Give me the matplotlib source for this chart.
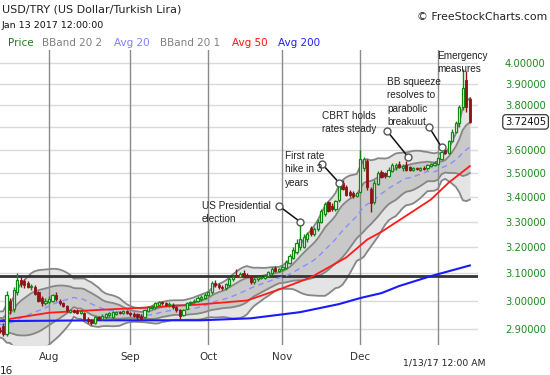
import numpy as np
import pandas as pd
import matplotlib
matplotlib.use("Agg")
import matplotlib.pyplot as plt
from matplotlib.ticker import FixedLocator, NullLocator, FixedFormatter
import matplotlib.transforms as mtransforms

# ---------------- data ----------------
dates = pd.bdate_range("2016-07-12", "2017-01-13")

opens = [
    2.895, 2.910, 2.880, 3.000, 2.970, 3.030, 3.075, 3.070, 3.065, 3.048,
    3.050, 3.030, 3.010, 2.990, 2.995, 3.000, 3.020, 3.000, 2.990, 2.980,
    2.960, 2.965, 2.963, 2.955, 2.955, 2.935, 2.930, 2.920, 2.940, 2.935,
    2.940, 2.948, 2.940, 2.952, 2.958, 2.955, 2.962, 2.955, 2.952, 2.950,
    2.945, 2.940, 2.962, 2.972, 2.975, 2.985, 2.995, 2.990, 2.982, 2.985,
    2.975, 2.965, 2.948, 2.970, 2.990, 2.995, 2.998, 3.005, 3.010, 3.020,
    3.030, 3.066, 3.058, 3.050, 3.045, 3.055, 3.078, 3.095, 3.088, 3.100,
    3.095, 3.092, 3.068, 3.078, 3.082, 3.084, 3.090, 3.100, 3.120, 3.110,
    3.115, 3.120, 3.140, 3.160, 3.180, 3.200, 3.200, 3.230, 3.275, 3.250,
    3.270, 3.300, 3.330, 3.380, 3.365, 3.350, 3.390, 3.460, 3.440, 3.420,
    3.415, 3.405, 3.420, 3.520, 3.550, 3.435, 3.380, 3.455, 3.505, 3.500,
    3.490, 3.510, 3.525, 3.540, 3.520, 3.535, 3.525, 3.515, 3.522, 3.515,
    3.523, 3.520, 3.530, 3.535, 3.540, 3.560, 3.600, 3.585, 3.640, 3.680,
    3.720, 3.790, 3.920, 3.830,
]
highs = [
    2.905, 2.920, 3.035, 3.010, 3.050, 3.100, 3.090, 3.080, 3.070, 3.060,
    3.055, 3.035, 3.015, 3.010, 3.015, 3.025, 3.030, 3.005, 2.995, 2.985,
    2.970, 2.970, 2.968, 2.966, 2.960, 2.940, 2.935, 2.945, 2.945, 2.950,
    2.955, 2.960, 2.962, 2.962, 2.963, 2.966, 2.966, 2.960, 2.958, 2.955,
    2.950, 2.970, 2.980, 2.985, 2.995, 3.000, 3.000, 2.995, 2.995, 2.990,
    2.980, 2.970, 2.970, 2.995, 3.000, 3.005, 3.015, 3.020, 3.028, 3.035,
    3.070, 3.075, 3.063, 3.055, 3.065, 3.085, 3.095, 3.118, 3.105, 3.112,
    3.100, 3.095, 3.085, 3.090, 3.092, 3.096, 3.110, 3.125, 3.128, 3.120,
    3.130, 3.150, 3.175, 3.200, 3.230, 3.300, 3.250, 3.260, 3.285, 3.280,
    3.310, 3.350, 3.380, 3.385, 3.375, 3.390, 3.460, 3.470, 3.450, 3.430,
    3.425, 3.420, 3.600, 3.570, 3.560, 3.440, 3.470, 3.510, 3.515, 3.505,
    3.525, 3.545, 3.545, 3.550, 3.540, 3.550, 3.530, 3.525, 3.527, 3.526,
    3.530, 3.540, 3.545, 3.550, 3.570, 3.595, 3.610, 3.645, 3.690, 3.730,
    3.800, 3.970, 3.960, 3.840,
]
lows = [
    2.885, 2.875, 2.875, 2.950, 2.960, 3.020, 3.050, 3.045, 3.045, 3.040,
    3.020, 2.995, 2.980, 2.985, 2.990, 2.995, 3.000, 2.985, 2.975, 2.960,
    2.955, 2.955, 2.950, 2.950, 2.930, 2.918, 2.912, 2.915, 2.930, 2.930,
    2.935, 2.940, 2.930, 2.948, 2.950, 2.952, 2.950, 2.945, 2.940, 2.930,
    2.930, 2.935, 2.958, 2.968, 2.970, 2.980, 2.985, 2.980, 2.975, 2.970,
    2.960, 2.935, 2.945, 2.968, 2.985, 2.990, 2.995, 3.000, 3.005, 3.015,
    3.025, 3.050, 3.042, 3.040, 3.040, 3.050, 3.070, 3.085, 3.085, 3.088,
    3.085, 3.060, 3.062, 3.072, 3.078, 3.080, 3.088, 3.095, 3.105, 3.105,
    3.110, 3.115, 3.135, 3.155, 3.175, 3.190, 3.195, 3.220, 3.245, 3.245,
    3.265, 3.295, 3.325, 3.340, 3.345, 3.345, 3.380, 3.430, 3.405, 3.400,
    3.395, 3.400, 3.415, 3.510, 3.430, 3.340, 3.370, 3.450, 3.480, 3.480,
    3.485, 3.505, 3.515, 3.520, 3.510, 3.510, 3.510, 3.510, 3.512, 3.510,
    3.513, 3.515, 3.525, 3.530, 3.535, 3.555, 3.580, 3.580, 3.635, 3.675,
    3.700, 3.780, 3.770, 3.720,
]
closes = [
    2.890, 2.880, 3.020, 2.965, 3.040, 3.075, 3.060, 3.055, 3.050, 3.052,
    3.025, 3.000, 2.990, 3.000, 3.005, 3.020, 3.005, 2.990, 2.980, 2.965,
    2.965, 2.960, 2.955, 2.962, 2.935, 2.925, 2.918, 2.940, 2.935, 2.945,
    2.950, 2.955, 2.957, 2.958, 2.955, 2.962, 2.955, 2.950, 2.945, 2.940,
    2.935, 2.965, 2.975, 2.978, 2.990, 2.995, 2.990, 2.985, 2.988, 2.975,
    2.965, 2.945, 2.965, 2.990, 2.995, 3.000, 3.010, 3.012, 3.020, 3.030,
    3.065, 3.055, 3.048, 3.045, 3.060, 3.080, 3.088, 3.090, 3.098, 3.093,
    3.090, 3.068, 3.080, 3.085, 3.086, 3.092, 3.105, 3.115, 3.110, 3.115,
    3.125, 3.145, 3.165, 3.190, 3.215, 3.230, 3.240, 3.250, 3.250, 3.270,
    3.300, 3.345, 3.370, 3.345, 3.350, 3.385, 3.455, 3.435, 3.410, 3.410,
    3.405, 3.415, 3.560, 3.560, 3.440, 3.375, 3.460, 3.500, 3.485, 3.490,
    3.515, 3.535, 3.535, 3.525, 3.530, 3.515, 3.515, 3.520, 3.516, 3.521,
    3.518, 3.535, 3.540, 3.545, 3.565, 3.590, 3.585, 3.640, 3.680, 3.720,
    3.790, 3.880, 3.790, 3.72405,
]
# closes of the 19 sessions before the visible window (needed for 20-day bands)
prior_closes = [2.915, 2.925, 2.935, 2.940, 2.930, 2.945, 2.960, 2.950, 2.930,
                2.920, 2.905, 2.890, 2.885, 2.890, 2.895, 2.905, 2.900, 2.895, 2.890]

# moving averages (bar index, value)
avg50_idx = [0, 14, 28, 42, 56, 70, 79, 88, 98, 104, 108, 122, 127, 133]
avg50_val = [2.928, 2.956, 2.966, 2.975, 2.985, 3.000, 3.040, 3.085, 3.160, 3.230, 3.260, 3.390, 3.460, 3.530]
avg200_idx = [0, 28, 57, 71, 85, 96, 102, 108, 113, 122, 133]
avg200_val = [2.926, 2.929, 2.929, 2.936, 2.958, 2.987, 3.009, 3.027, 3.053, 3.090, 3.130]

resistance = 3.091
yticks = [2.9, 3.0, 3.1, 3.2, 3.3, 3.4, 3.5, 3.6, 3.8, 3.9, 4.0]
last_price = 3.72405
month_names = ["Aug", "Sep", "Oct", "Nov", "Dec", ""]

# ---------------- figure ----------------
W, H = 550, 375
fig = plt.figure(figsize=(W / 100, H / 100), dpi=100)
fig.patch.set_facecolor("white")
AX_R = 478
ax = fig.add_axes([0, 1 - 345 / H, AX_R / W, (345 - 50) / H])
ax.set_facecolor("white")
for s in ax.spines.values():
    s.set_visible(False)

n = len(closes)
idx = np.arange(n)
o = np.array(opens); h = np.array(highs); l = np.array(lows); c = np.array(closes)

ax.set_yscale("log")
ax.set_ylim(2.8427, 4.0627)
ax.set_xlim(0.14, 135.3)

# horizontal grid
for yv in yticks + [3.7]:
    ax.axhline(yv, color="#dadada", lw=1, zorder=0)

# bollinger bands
allc = pd.Series(prior_closes + closes)
mid = allc.rolling(20).mean().values[-n:]
sd = allc.rolling(20).std(ddof=0).values[-n:]
up2, lo2 = mid + 2 * sd, mid - 2 * sd
up1, lo1 = mid + sd, mid - sd
ax.fill_between(idx, lo2, up2, color="#e4e4e4", lw=0, zorder=1)
ax.fill_between(idx, lo1, up1, color="#c9c9c9", lw=0, zorder=1.1)
for band in (up2, lo2, up1, lo1):
    ax.plot(idx, band, color="#868686", lw=1.3, zorder=1.2)

# month gridlines
month_idx = []
for m in [(2016, 8), (2016, 9), (2016, 10), (2016, 11), (2016, 12), (2017, 1)]:
    sel = np.where((dates.year == m[0]) & (dates.month == m[1]))[0]
    month_idx.append(int(sel[0]))
for mi in month_idx:
    ax.axvline(mi, color="#8a8a8a", lw=1, zorder=1.5)

# resistance line
ax.axhline(resistance, color="#333333", lw=2, zorder=2)

# averages
ax.plot(idx, mid, color="#8c8cff", lw=1.0, ls=(0, (4, 3)), zorder=2.5)
ax.plot(avg50_idx, avg50_val, color="#ff1a1a", lw=1.3, zorder=2.6)
ax.plot(avg200_idx, avg200_val, color="#1a1aff", lw=1.5, zorder=2.6)

# candles
upc = c >= o
green, red = "#118811", "#8b1515"
cols = np.where(upc, green, red)
ax.vlines(idx, l, h, colors=cols, lw=1, zorder=3)
body_lo = np.minimum(o, c)
body_h = np.maximum(np.abs(c - o), 0.002)
ax.bar(idx[upc], body_h[upc], bottom=body_lo[upc], width=0.62,
       facecolor="#ffffff", edgecolor=green, lw=0.9, zorder=3.1)
ax.bar(idx[~upc], body_h[~upc], bottom=body_lo[~upc], width=0.62,
       facecolor=red, edgecolor=red, lw=0.6, zorder=3.1)

# ticks (right price scale)
LBL_L = 505  # left edge of price labels in pixels
ax.yaxis.tick_right()
ax.yaxis.set_major_locator(FixedLocator(yticks))
ax.yaxis.set_minor_locator(NullLocator())
ax.yaxis.set_major_formatter(FixedFormatter([f"{v:.5f}" for v in yticks]))
ax.tick_params(axis="y", which="both", length=0, pad=(LBL_L - AX_R) * 0.72,
               labelsize=7.2, labelcolor="#1f8a1f")
ax.xaxis.set_major_locator(FixedLocator(month_idx))
ax.xaxis.set_minor_locator(NullLocator())
ax.xaxis.set_major_formatter(FixedFormatter(month_names))
ax.tick_params(axis="x", length=0, pad=5, labelsize=7.5, labelcolor="#333333")

# last price box
trans = mtransforms.blended_transform_factory(ax.transAxes, ax.transData)
ax.text((LBL_L - 0) / AX_R, last_price, f"{last_price:.5f}", transform=trans,
        ha="left", va="center", fontsize=7.2, color="#111111", zorder=6,
        bbox=dict(boxstyle="round,pad=0.22,rounding_size=0.3", fc="white",
                  ec="#222222", lw=0.8), clip_on=False)

# annotations
ann_font = dict(family="Liberation Sans", fontsize=7.2, color="#222222")
def fig_text(px, py, s, **kw):
    fig.text(px / W, 1 - py / H, s, va="top", ha="left", linespacing=1.42, **kw)

def connector(p0, p1):
    ax.plot([p0[0], p1[0]], [p0[1], p1[1]], color="#111111", lw=1.1, zorder=5)
    ax.plot([p0[0], p1[0]], [p0[1], p1[1]], ls="none", marker="o", ms=5,
            mfc="white", mec="#555555", mew=1, zorder=5.1)

fig_text(202, 201, "US Presidential\nelection", **ann_font)
connector((79.0, 3.364), (85, highs[85]))
fig_text(285, 151, "First rate\nhike in 3\nyears", **ann_font)
connector((91.2, 3.539), (96, highs[96]))
fig_text(322, 111, "CBRT holds\nrates steady", **ann_font)
connector((109.6, 3.683), (115.5, 3.57))
fig_text(387, 77, "BB squeeze\nresolves to\nparabolic\nbreakuut", **ann_font)
connector((121.5, 3.70), (125, 3.612))
fig_text(437, 51, "Emergency\nmeasures", **ann_font)

# header
fig.text(2 / W, 1 - 9 / H, "USD/TRY (US Dollar/Turkish Lira)", fontsize=8,
         color="#222222", va="center", ha="left")
fig.text(2 / W, 1 - 25 / H, "Jan 13 2017 12:00:00", fontsize=6.8,
         color="#111111", va="center", ha="left")
fig.text(547 / W, 1 - 17 / H, "\u00a9 FreeStockCharts.com", fontsize=7.8,
         color="#222222", va="center", ha="right")
legend_items = [("Price", "#1f7a1f", 8), ("BBand 20 2", "#808080", 42),
                ("Avg 20", "#8080ff", 114), ("BBand 20 1", "#808080", 160),
                ("Avg 50", "#ff1010", 232), ("Avg 200", "#2020ff", 278)]
for txt, col, px in legend_items:
    fig.text(px / W, 1 - 43 / H, txt, fontsize=7.5, color=col, va="center", ha="left")

# bottom texts
fig.text(444 / W, 1 - 363 / H, "1/13/17 12:00 AM", fontsize=6.7, color="#222222",
         va="center", ha="center")
fig.text(0, 1 - 371 / H, "16", fontsize=7.5, color="#222222", va="center", ha="left")

fig.savefig("out.png", dpi=100)
